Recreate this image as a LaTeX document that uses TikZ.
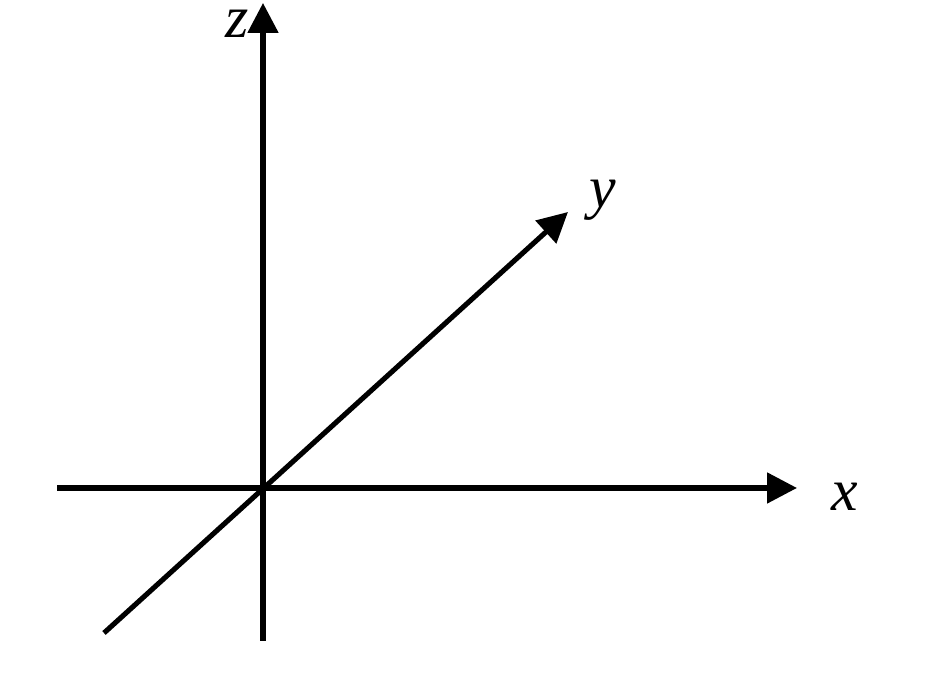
\documentclass[tikz,border=0pt]{standalone}
\usepackage{fontspec}
\setmainfont{Liberation Serif}
\usepackage{tikz}
\usetikzlibrary{positioning, arrows.meta}
\tikzstyle{axis} = [line width=1.45pt,-{Triangle[length=0.3cm,width=0.3cm]}]

\begin{document}
\begin{tikzpicture}[
			lbl/.style={font=\fontsize{17}{20}\selectfont\itshape, inner sep=0pt}
			]
			\useasboundingbox (0,0) rectangle (9.49,6.82);
			
			\coordinate (O) at (2.63,1.94);
			\coordinate (x-start) at (0.57,1.94);
			\coordinate (x-end) at (7.97,1.94);
			\coordinate (y-start) at (1.04,0.49);
			\coordinate (y-end) at (5.68,4.70);
			\coordinate (z-start) at (2.63,0.41);
			\coordinate (z-end) at (2.63,6.79);
			
			\draw[axis] (x-start) -- (x-end);
			\draw[axis] (y-start) -- (y-end);
			\draw[axis] (z-start) -- (z-end);
			
			\node[lbl] (x-lbl) at (8.45,1.85) {x};
			\node[lbl] (y-lbl) at (6.03,4.82) {y};
			\node[lbl] (z-lbl) at (2.37,6.58) {z};
		\end{tikzpicture}
\end{document}
